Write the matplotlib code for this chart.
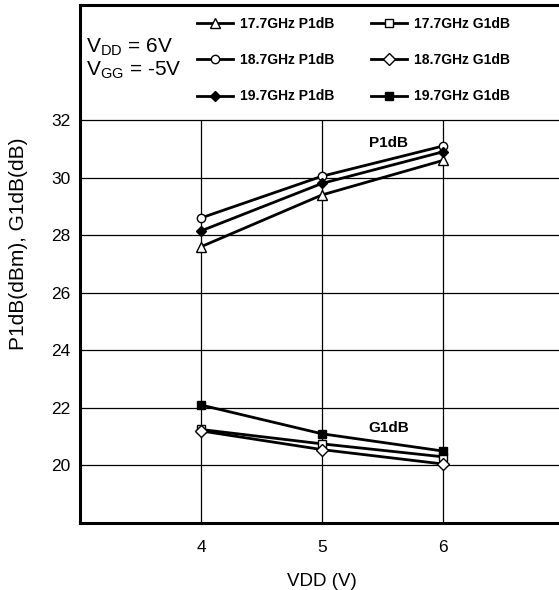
import matplotlib.pyplot as plt

plt.rcParams['font.family'] = ['Liberation Sans', 'DejaVu Sans']
plt.rcParams['mathtext.fontset'] = 'custom'
plt.rcParams['mathtext.rm'] = 'Liberation Sans'

# Drain voltage sweep and measured compression points
vdd = [4, 5, 6]
p1db_177 = [27.6, 29.4, 30.6]
p1db_187 = [28.6, 30.05, 31.1]
p1db_197 = [28.15, 29.8, 30.9]
g1db_177 = [21.25, 20.75, 20.3]
g1db_187 = [21.2, 20.55, 20.05]
g1db_197 = [22.1, 21.1, 20.5]

y_ticks = [20, 22, 24, 26, 28, 30, 32]

fig = plt.figure(figsize=(5.59, 5.90), dpi=100)
ax = fig.add_axes([80 / 559, 67 / 590, 484 / 559, 518 / 590])
ax.set_xlim(3, 7)
ax.set_ylim(18, 36)

# grid only below the legend area
ax.hlines(y_ticks, 3, 7, color='black', lw=0.9, zorder=1)
ax.vlines(vdd, 18, y_ticks[-1], color='black', lw=0.9, zorder=1)

lw = 2.0
h1, = ax.plot(vdd, p1db_177, color='black', lw=lw, marker='^', ms=7,
              mfc='white', mec='black', mew=1.0, label='17.7GHz P1dB', zorder=3)
h2, = ax.plot(vdd, p1db_187, color='black', lw=lw, marker='o', ms=6,
              mfc='white', mec='black', mew=1.0, label='18.7GHz P1dB', zorder=3)
h3, = ax.plot(vdd, p1db_197, color='black', lw=lw, marker='D', ms=5,
              mfc='black', mec='black', label='19.7GHz P1dB', zorder=3)
h4, = ax.plot(vdd, g1db_177, color='black', lw=lw, marker='s', ms=6,
              mfc='white', mec='black', mew=1.0, label='17.7GHz G1dB', zorder=3)
h5, = ax.plot(vdd, g1db_187, color='black', lw=lw, marker='D', ms=6,
              mfc='white', mec='black', mew=1.0, label='18.7GHz G1dB', zorder=3)
h6, = ax.plot(vdd, g1db_197, color='black', lw=lw, marker='s', ms=6,
              mfc='black', mec='black', label='19.7GHz G1dB', zorder=3)

ax.text(5.55, 31.2, 'P1dB', fontsize=11, fontweight='bold', ha='center', va='center')
ax.text(5.55, 21.3, 'G1dB', fontsize=11, fontweight='bold', ha='center', va='center')

ax.text(3.05, 34.54, r'$\mathrm{V_{DD}}$ = 6V', fontsize=15, va='center')
ax.text(3.05, 33.74, r'$\mathrm{V_{GG}}$ = -5V', fontsize=15, va='center')

fig.legend(handles=[h1, h2, h3, h4, h5, h6], ncol=2, loc='upper left',
           bbox_to_anchor=(197 / 559, 1 - 17 / 590), frameon=False,
           prop={'size': 10, 'weight': 'bold'}, handlelength=2.6,
           handletextpad=0.5, columnspacing=2.6, labelspacing=1.6,
           borderpad=0, borderaxespad=0)

ax.set_xticks(vdd)
ax.set_yticks(y_ticks)
ax.tick_params(axis='both', length=0, labelsize=12.5)
ax.tick_params(axis='y', pad=7)
ax.tick_params(axis='x', pad=12)
for s in ax.spines.values():
    s.set_linewidth(2.2)

ax.set_xlabel('VDD (V)', fontsize=13.5, labelpad=13)
ax.set_ylabel('P1dB(dBm), G1dB(dB)', fontsize=15)
ax.yaxis.set_label_coords(-0.108, 0.54)

fig.savefig('out.png', dpi=100)
